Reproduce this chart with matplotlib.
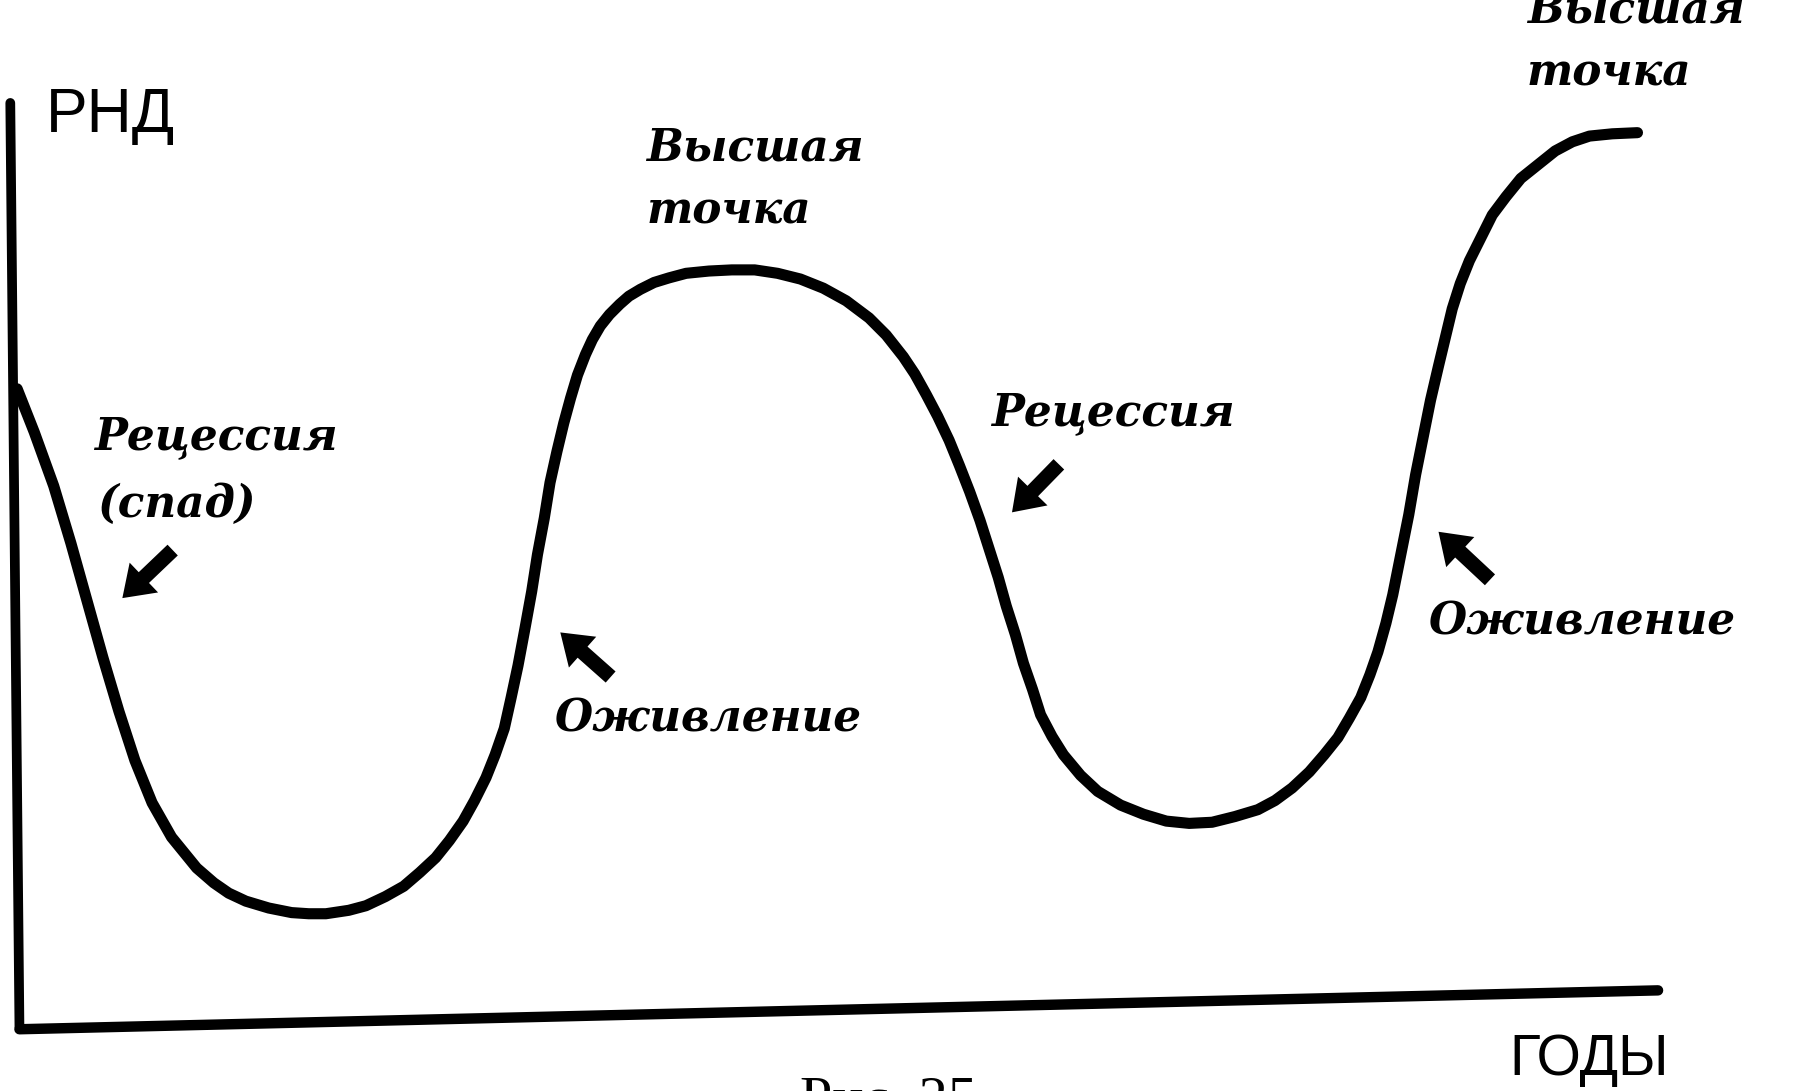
"""Business cycle sketch: РНД over years (recession / recovery / peaks)."""

import matplotlib
matplotlib.use("Agg")
import matplotlib.pyplot as plt

# curve: years (arbitrary units) vs РНД (arbitrary units)
years = [0, 15, 32, 47, 61, 75, 89, 103, 118, 135,
         157, 172, 185, 200, 220, 240, 255, 270, 290, 305,
         322, 338, 352, 366, 378, 390, 400, 410, 418, 426,
         432, 438, 444, 450, 455, 461, 466, 472, 478, 484,
         490, 497, 503, 510, 518, 527, 535, 545, 557, 570,
         585, 605, 625, 645, 665, 685, 705, 725, 745, 760,
         775, 785, 795, 805, 815, 824, 833, 842, 850, 858,
         865, 873, 880, 888, 895, 905, 915, 930, 945, 965,
         985, 1005, 1025, 1045, 1065, 1085, 1100, 1115, 1130, 1143,
         1155, 1165, 1175, 1183, 1190, 1197, 1203, 1210, 1217, 1223,
         1230, 1236, 1243, 1249, 1255, 1262, 1270, 1280, 1290, 1302,
         1315, 1330, 1345, 1360, 1375, 1395, 1417]
gni = [560, 522, 475, 425, 375, 325, 278, 235, 198, 168,
       141, 128, 119, 112, 106, 102, 101, 101, 104, 108,
       116, 125, 137, 150, 165, 182, 200, 220, 240, 263,
       290, 318, 350, 383, 415, 447, 478, 505, 530, 552,
       572, 590, 603, 615, 625, 634, 641, 647, 653, 657,
       661, 663, 664, 664, 661, 656, 648, 637, 622, 607,
       588, 573, 555, 536, 515, 493, 470, 445, 420, 395,
       370, 345, 320, 297, 275, 256, 240, 222, 208, 196,
       188, 182, 180, 181, 186, 192, 200, 211, 225, 240,
       255, 272, 290, 310, 330, 355, 380, 415, 450, 485,
       520, 550, 580, 605, 630, 652, 672, 692, 712, 728,
       744, 756, 768, 776, 781, 783, 784]

# phase labels (text, anchor x, baseline y)
labels = ["Высшая", "точка", "Высшая", "точка", "Рецессия", "(спад)",
          "Рецессия", "Оживление", "Оживление"]
label_x = [550, 550, 1320, 1320, 67, 70, 852, 470, 1234]
label_y = [760, 705, 880, 825, 507, 448, 528, 260, 345]

# direction arrows: tail -> tip
arrow_tail = [(136, 419), (519, 308), (911, 494), (1288, 393)]
arrow_tip = [(92, 377), (475, 347), (870, 452), (1243, 435)]

INK = "black"
ITALIC = dict(family="DejaVu Serif", style="italic", weight="bold",
              fontsize=31.5, color=INK)

fig = plt.figure(figsize=(17.93, 10.91), dpi=100, facecolor="white")
ax = fig.add_axes([0, 0, 1, 1])
ax.set_xlim(-15, 1553)
ax.set_ylim(-54, 900)
ax.axis("off")

# hand-drawn axes (x-axis slightly tilted as in the scan)
ax.plot([-6, 2], [810, 2], color=INK, lw=7, solid_capstyle="round")
ax.plot([2, 1435], [0, 34], color=INK, lw=7.5, solid_capstyle="round")

ax.plot(years, gni, color=INK, lw=8, solid_capstyle="round",
        solid_joinstyle="round")

for txt, x, y in zip(labels, label_x, label_y):
    ax.text(x, y, txt, ha="left", va="baseline", **ITALIC)

for (x0, y0), (x1, y1) in zip(arrow_tail, arrow_tip):
    ax.arrow(x0, y0, x1 - x0, y1 - y0, width=13, head_width=36,
             head_length=26, length_includes_head=True, color=INK, lw=0)

ax.text(25, 785, "РНД", ha="left", va="baseline", family="Liberation Sans",
        fontsize=45, color=INK)
ax.text(1305, -40, "ГОДЫ", ha="left", va="baseline", family="Liberation Sans",
        fontsize=41, color=INK)
ax.text(685, -75, "Рис. 25", ha="left", va="baseline", family="Liberation Serif",
        fontsize=42, color=INK, clip_on=False)

fig.savefig("out.png", dpi=100, facecolor="white")
plt.close(fig)
